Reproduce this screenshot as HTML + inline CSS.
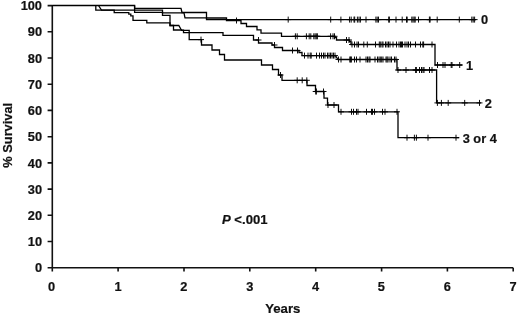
<!DOCTYPE html>
<html><head><meta charset="utf-8"><title>Survival</title>
<style>
html,body{margin:0;padding:0;background:#fff}
svg{display:block}
text{font-family:"Liberation Sans",sans-serif;font-weight:bold;font-size:12.8px;fill:#111;stroke:#111;stroke-width:0.2px}
</style></head><body>
<svg width="520" height="314" viewBox="0 0 520 314">
<rect width="520" height="314" fill="#fff"/>
<path d="M52.3 5V267.7H513.2M52.3 267.7H47.6M52.3 241.5H47.6M52.3 215.3H47.6M52.3 189.1H47.6M52.3 162.9H47.6M52.3 136.7H47.6M52.3 110.4H47.6M52.3 84.2H47.6M52.3 58H47.6M52.3 31.8H47.6M52.3 5.6H47.6M52.3 267.7V271.6M118.1 267.7V271.6M184 267.7V271.6M249.8 267.7V271.6M315.7 267.7V271.6M381.6 267.7V271.6M447.4 267.7V271.6M513.2 267.7V271.6" fill="none" stroke="#111" stroke-width="1.6"/>
<g fill="none" stroke="#000" stroke-width="1.3" stroke-linejoin="miter">
<path d="M98.5 5.5L101.5 10.2H162.5V12.8H184L185 17.8H206.5V19.6H476"/>
<path d="M52.4 5.5H134.6V8.4H181L182 12.5H206.5V18H226.5V20.5H241V23.5H246.5V26.5H257V29.8H261V33.2H281.5V36.3H334.5V37.5H336.5V40H349.5V41.5H351V44.5H435V65H462.3"/>
<path d="M134.6 5.5V12.3H162.5V15.4H170V25.5H178.8L181.5 30.2H183.5V32.7H223V35.3H253.5V40H258.5V43H272V45H274.5V47.5H282.5V50.5H299V52.5H302V55.6H335.5L338 59.5H397V70H436.6V102.9H481"/>
<path d="M95.8 5.5V10.2H114.2V12.6H128.8V14.2H130.8V15.8H133V20.3H146.8V22.9H170V25.5H173.5V30H181.5V30.4H189.2V39.6H201.5V45H212V50H219.5V54.5H224.5V60H261.5V65H272.5V69.5H278.5V75H282V80.3H307V85.5H315.5V91.5H324V98.2H327.5V105H338.5V111.8H398V137.7H459.3"/>
</g>
<path d="M288.2 16.6v6M285.2 19.6h6M330.7 16.6v6M327.7 19.6h6M340.9 16.6v6M337.9 19.6h6M349.6 16.6v6M346.6 19.6h6M351.2 16.6v6M348.2 19.6h6M354 16.6v6M351 19.6h6M354.7 16.6v6M351.7 19.6h6M357.4 16.6v6M354.4 19.6h6M359 16.6v6M356 19.6h6M360.4 16.6v6M357.4 19.6h6M366 16.6v6M363 19.6h6M375.9 16.6v6M372.9 19.6h6M377.2 16.6v6M374.2 19.6h6M378.5 16.6v6M375.5 19.6h6M388.7 16.6v6M385.7 19.6h6M389.4 16.6v6M386.4 19.6h6M396 16.6v6M393 19.6h6M402.2 16.6v6M399.2 19.6h6M406.5 16.6v6M403.5 19.6h6M407.2 16.6v6M404.2 19.6h6M411.8 16.6v6M408.8 19.6h6M413 16.6v6M410 19.6h6M414.2 16.6v6M411.2 19.6h6M415.2 16.6v6M412.2 19.6h6M418.5 16.6v6M415.5 19.6h6M429.4 16.6v6M426.4 19.6h6M430.1 16.6v6M427.1 19.6h6M437.2 16.6v6M434.2 19.6h6M459.3 16.6v6M456.3 19.6h6M471.8 16.6v6M468.8 19.6h6M473.2 16.6v6M470.2 19.6h6M474.6 16.6v6M471.6 19.6h6M236.5 17.5v6M233.5 20.5h6M295.4 33.3v6M292.4 36.3h6M297.2 33.3v6M294.2 36.3h6M306.4 33.3v6M303.4 36.3h6M309.2 33.3v6M306.2 36.3h6M310.8 33.3v6M307.8 36.3h6M313.8 33.3v6M310.8 36.3h6M315.1 33.3v6M312.1 36.3h6M316.3 33.3v6M313.3 36.3h6M317.4 33.3v6M314.4 36.3h6M330.6 33.3v6M327.6 36.3h6M333 33.3v6M330 36.3h6M334.5 33.3v6M331.5 36.3h6M346.5 37v6M343.5 40h6M349 37v6M346 40h6M258.5 37v6M255.5 40h6M352 41.5v6M349 44.5h6M354.5 41.5v6M351.5 44.5h6M357 41.5v6M354 44.5h6M358.5 41.5v6M355.5 44.5h6M363.8 41.5v6M360.8 44.5h6M367.3 41.5v6M364.3 44.5h6M375.5 41.5v6M372.5 44.5h6M379.3 41.5v6M376.3 44.5h6M380.3 41.5v6M377.3 44.5h6M382 41.5v6M379 44.5h6M383 41.5v6M380 44.5h6M385.5 41.5v6M382.5 44.5h6M387 41.5v6M384 44.5h6M388.5 41.5v6M385.5 44.5h6M390 41.5v6M387 44.5h6M393 41.5v6M390 44.5h6M396.5 41.5v6M393.5 44.5h6M399 41.5v6M396 44.5h6M400.5 41.5v6M397.5 44.5h6M401.5 41.5v6M398.5 44.5h6M402.5 41.5v6M399.5 44.5h6M405 41.5v6M402 44.5h6M407 41.5v6M404 44.5h6M408.5 41.5v6M405.5 44.5h6M410.5 41.5v6M407.5 44.5h6M415.5 41.5v6M412.5 44.5h6M420.5 41.5v6M417.5 44.5h6M422.8 41.5v6M419.8 44.5h6M423.6 41.5v6M420.6 44.5h6M432 41.5v6M429 44.5h6M437.5 62v6M434.5 65h6M443 62v6M440 65h6M445 62v6M442 65h6M451.2 62v6M448.2 65h6M452 62v6M449 65h6M459.7 62v6M456.7 65h6M274.5 42v6M271.5 45h6M292.5 47.5v6M289.5 50.5h6M297.5 47.5v6M294.5 50.5h6M304.5 52.6v6M301.5 55.6h6M308 52.6v6M305 55.6h6M310.2 52.6v6M307.2 55.6h6M311.2 52.6v6M308.2 55.6h6M316.5 52.6v6M313.5 55.6h6M319.5 52.6v6M316.5 55.6h6M321.5 52.6v6M318.5 55.6h6M323.5 52.6v6M320.5 55.6h6M325 52.6v6M322 55.6h6M327.5 52.6v6M324.5 55.6h6M329 52.6v6M326 55.6h6M330.5 52.6v6M327.5 55.6h6M332 52.6v6M329 55.6h6M333.5 52.6v6M330.5 55.6h6M335 52.6v6M332 55.6h6M338.5 56.5v6M335.5 59.5h6M341 56.5v6M338 59.5h6M349.8 56.5v6M346.8 59.5h6M350.6 56.5v6M347.6 59.5h6M351.4 56.5v6M348.4 59.5h6M354.5 56.5v6M351.5 59.5h6M356.5 56.5v6M353.5 59.5h6M360 56.5v6M357 59.5h6M366 56.5v6M363 59.5h6M367.5 56.5v6M364.5 59.5h6M369 56.5v6M366 59.5h6M370 56.5v6M367 59.5h6M375 56.5v6M372 59.5h6M377.5 56.5v6M374.5 59.5h6M379 56.5v6M376 59.5h6M380.3 56.5v6M377.3 59.5h6M381.7 56.5v6M378.7 59.5h6M383 56.5v6M380 59.5h6M386 56.5v6M383 59.5h6M387 56.5v6M384 59.5h6M388 56.5v6M385 59.5h6M390 56.5v6M387 59.5h6M391.5 56.5v6M388.5 59.5h6M394.5 56.5v6M391.5 59.5h6M396 56.5v6M393 59.5h6M398 67v6M395 70h6M406 67v6M403 70h6M415.6 67v6M412.6 70h6M416.4 67v6M413.4 70h6M419.5 67v6M416.5 70h6M421.5 67v6M418.5 70h6M423 67v6M420 70h6M424 67v6M421 70h6M429.5 67v6M426.5 70h6M432 67v6M429 70h6M437.4 99.9v6M434.4 102.9h6M441.4 99.9v6M438.4 102.9h6M448.2 99.9v6M445.2 102.9h6M464.7 99.9v6M461.7 102.9h6M479.5 99.9v6M476.5 102.9h6M201 36.6v6M198 39.6h6M280.5 72v6M277.5 75h6M297.2 77.3v6M294.2 80.3h6M302.2 77.3v6M299.2 80.3h6M306.8 77.3v6M303.8 80.3h6M315.7 88.5v6M312.7 91.5h6M316.4 88.5v6M313.4 91.5h6M323.5 88.5v6M320.5 91.5h6M328 102v6M325 105h6M334 102v6M331 105h6M341 108.8v6M338 111.8h6M351.5 108.8v6M348.5 111.8h6M353.5 108.8v6M350.5 111.8h6M356.5 108.8v6M353.5 111.8h6M358 108.8v6M355 111.8h6M366.5 108.8v6M363.5 111.8h6M371.5 108.8v6M368.5 111.8h6M372.5 108.8v6M369.5 111.8h6M374.5 108.8v6M371.5 111.8h6M382.5 108.8v6M379.5 111.8h6M385 108.8v6M382 111.8h6M397 108.8v6M394 111.8h6M407 134.7v6M404 137.7h6M414.4 134.7v6M411.4 137.7h6M416.4 134.7v6M413.4 137.7h6M428 134.7v6M425 137.7h6M456 134.7v6M453 137.7h6" fill="none" stroke="#000" stroke-width="0.95"/>
<g>
<text x="42" y="272.3" text-anchor="end">0</text>
<text x="42" y="246.1" text-anchor="end">10</text>
<text x="42" y="219.9" text-anchor="end">20</text>
<text x="42" y="193.7" text-anchor="end">30</text>
<text x="42" y="167.5" text-anchor="end">40</text>
<text x="42" y="141.2" text-anchor="end">50</text>
<text x="42" y="115" text-anchor="end">60</text>
<text x="42" y="88.8" text-anchor="end">70</text>
<text x="42" y="62.6" text-anchor="end">80</text>
<text x="42" y="36.4" text-anchor="end">90</text>
<text x="42" y="10.2" text-anchor="end">100</text>
<text x="51.6" y="291.3" text-anchor="middle">0</text>
<text x="118" y="291.3" text-anchor="middle">1</text>
<text x="183.9" y="291.3" text-anchor="middle">2</text>
<text x="249.7" y="291.3" text-anchor="middle">3</text>
<text x="315.6" y="291.3" text-anchor="middle">4</text>
<text x="381.4" y="291.3" text-anchor="middle">5</text>
<text x="447.3" y="291.3" text-anchor="middle">6</text>
<text x="513.1" y="291.3" text-anchor="middle">7</text>
<text x="282.8" y="313.2" text-anchor="middle" style="font-size:13.2px">Years</text>
<text transform="translate(12.2 135.3) rotate(-90)" text-anchor="middle">% Survival</text>
<text x="222" y="224.3" style="font-size:13.1px"><tspan font-style="italic">P</tspan> &lt;.001</text>
<text x="481" y="23.8">0</text>
<text x="466" y="69.7">1</text>
<text x="484.7" y="107.8">2</text>
<text x="462.7" y="143">3 or 4</text>
</g>
</svg>
</body></html>
